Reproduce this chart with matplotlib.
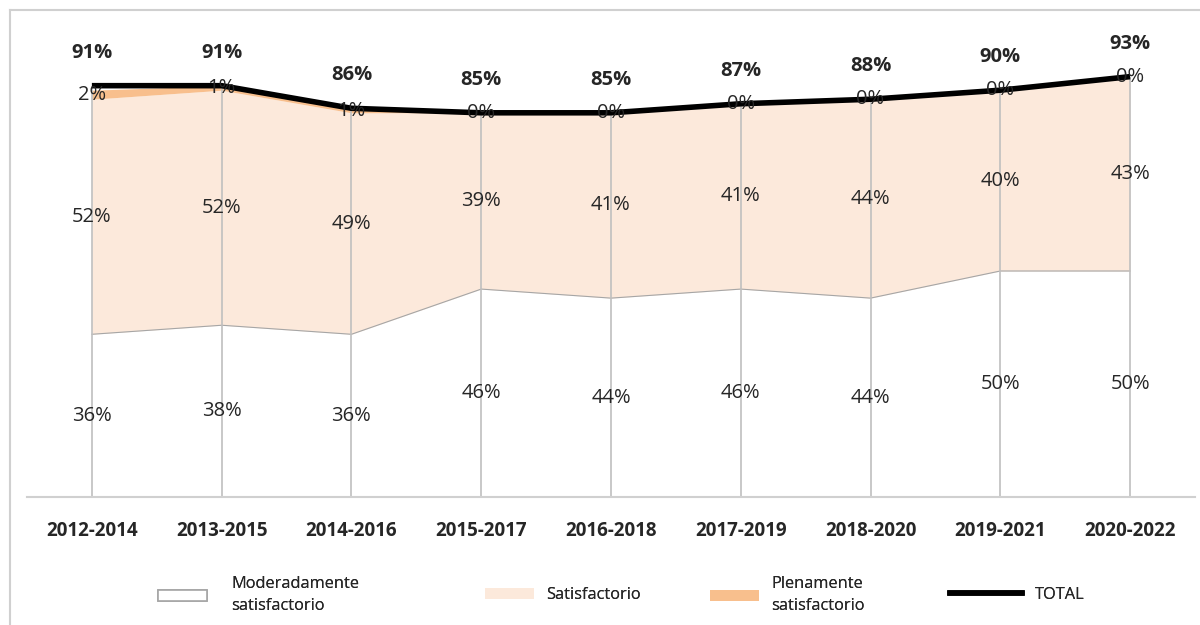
import numpy as np
import matplotlib.pyplot as plt
from matplotlib.patches import Patch
from matplotlib.lines import Line2D

periods = ['2012-2014', '2013-2015', '2014-2016', '2015-2017', '2016-2018',
           '2017-2019', '2018-2020', '2019-2021', '2020-2022']
moderado = [36, 38, 36, 46, 44, 46, 44, 50, 50]
satisf = [52, 52, 49, 39, 41, 41, 44, 40, 43]
pleno = [2, 1, 1, 0, 0, 0, 0, 0, 0]
total = [91, 91, 86, 85, 85, 87, 88, 90, 93]

plt.rcParams['font.family'] = ['Open Sans', 'DejaVu Sans']

c_mod = 'white'
c_sat = '#FCE9DB'
c_ple = '#F8BF8D'
c_grid = '#BFBFBF'

x = np.arange(len(periods))
mod = np.array(moderado)
sat = np.array(satisf)
ple = np.array(pleno)
tot = np.array(total)

fig = plt.figure(figsize=(12, 6.25), dpi=100)
ax = fig.add_axes([0.0225, 0.2048, 0.9733, 0.7232])

ax.fill_between(x, 0, mod, color=c_mod, lw=0)
ax.fill_between(x, mod, mod + sat, color=c_sat, lw=0)
ax.fill_between(x, mod + sat, mod + sat + ple, color=c_ple, lw=0)
ax.plot(x, mod, color='#A6A6A6', lw=0.8)

# drop lines
top = np.maximum(mod + sat + ple, tot)
ax.vlines(x, 0, top, color=c_grid, lw=1.2, zorder=2)

ax.plot(x, tot, color='black', lw=4, solid_capstyle='butt', zorder=4)

fs = 14.5
for i in range(len(x)):
    ax.text(x[i], mod[i] / 2, f'{moderado[i]}%', ha='center', va='center',
            fontsize=fs, color='#262626', zorder=5)
    ax.text(x[i], mod[i] + sat[i] / 2, f'{satisf[i]}%', ha='center', va='center',
            fontsize=fs, color='#262626', zorder=5)
    ax.text(x[i], mod[i] + sat[i] + ple[i] / 2, f'{pleno[i]}%', ha='center', va='center',
            fontsize=fs, color='#262626', zorder=5)
    ax.text(x[i], tot[i] + 7.3, f'{total[i]}%', ha='center', va='center',
            fontsize=fs, fontweight='bold', color='#262626', zorder=5)

ax.set_xlim(-0.5, len(x) - 0.5)
ax.set_ylim(0, 100)
ax.set_xticks(x)
ax.set_xticklabels(periods, fontsize=13.5, fontweight='bold', color='#262626')
ax.tick_params(axis='x', length=0, pad=17)
ax.set_yticks([])
for s in ['top', 'right', 'left']:
    ax.spines[s].set_visible(False)
ax.spines['bottom'].set_color('#D0D0D0')
ax.spines['bottom'].set_linewidth(1.5)

# legend entries placed one by one, as in the original layout
entries = [
    (Patch(facecolor='white', edgecolor='#A6A6A6', lw=1.2),
     'Moderadamente\nsatisfactorio', 158, 3.0, 1.45),
    (Patch(facecolor=c_sat, edgecolor='none'), 'Satisfactorio', 485, 3.0, 0.75),
    (Patch(facecolor=c_ple, edgecolor='none'), 'Plenamente\nsatisfactorio', 710, 3.0, 0.75),
    (Line2D([0], [0], color='black', lw=4), 'TOTAL', 950, 4.4, 0.8),
]
for h, lab, px, hl, pad in entries:
    leg = fig.legend([h], [lab], loc='center left',
                     bbox_to_anchor=(px / 1200, 1 - 595 / 625),
                     frameon=False, fontsize=11.8, handlelength=hl, handleheight=0.7,
                     handletextpad=pad, borderpad=0, borderaxespad=0,
                     labelcolor='#262626')
    for t in leg.get_texts():
        t.set_linespacing(1.55)
    fig.add_artist(leg)

# chart frame (top and left edges visible)
fig.add_artist(Line2D([0.0085, 1], [0.984, 0.984], color='#D0D0D0', lw=1.5,
                      transform=fig.transFigure))
fig.add_artist(Line2D([0.0085, 0.0085], [0, 0.984], color='#D0D0D0', lw=1.5,
                      transform=fig.transFigure))

fig.savefig('out.png', dpi=100, facecolor='white')
